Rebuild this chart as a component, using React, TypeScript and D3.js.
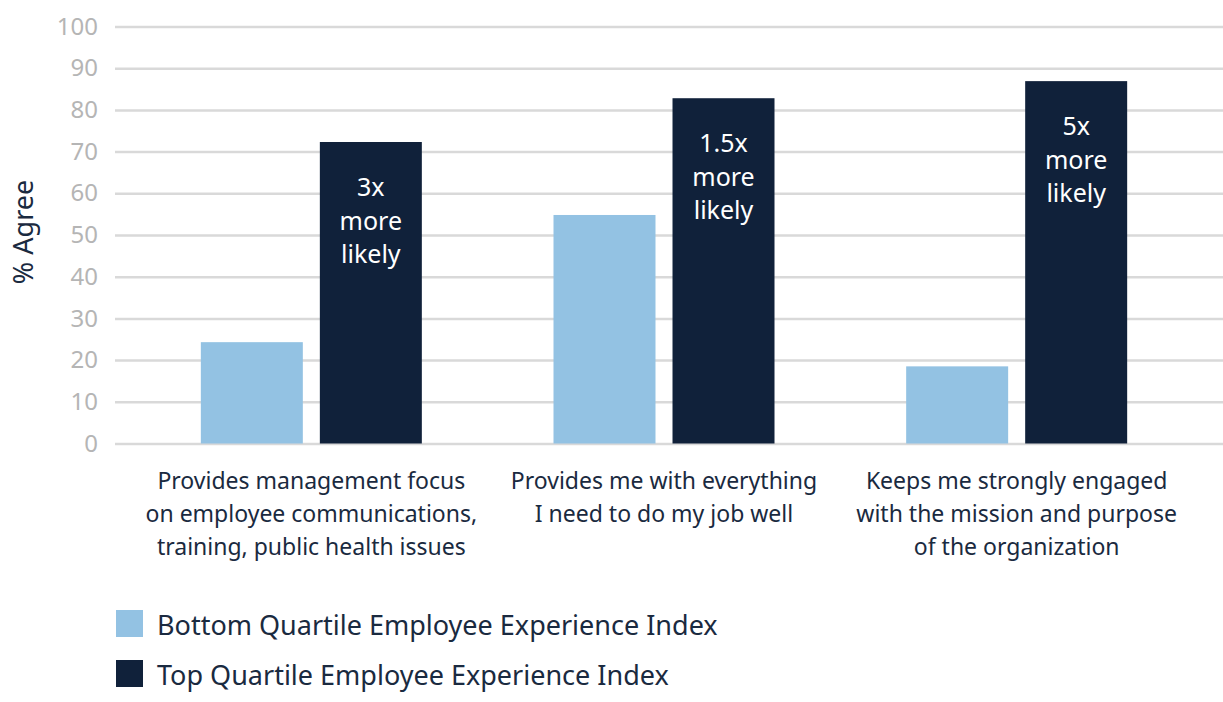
import { useEffect, useRef } from "react"
import * as d3 from "d3"

const categories = [
  ["Provides management focus", "on employee communications,", "training, public health issues"],
  ["Provides me with everything", "I need to do my job well"],
  ["Keeps me strongly engaged", "with the mission and purpose", "of the organization"],
]
const bottomQuartile = [24.3, 54.8, 18.5]
const topQuartile = [72.3, 82.8, 86.9]
const multipliers = ["3x", "1.5x", "5x"]
const yTicks = [0, 10, 20, 30, 40, 50, 60, 70, 80, 90, 100]
const seriesNames = ["Bottom Quartile Employee Experience Index", "Top Quartile Employee Experience Index"]

const C = { light: "#93c2e3", dark: "#10213a", grid: "#d9d9d9", tick: "#b5b5b5", text: "#1a2a40" }
const FONT = "'Noto Sans', sans-serif"

export default function App() {
  const ref = useRef<SVGSVGElement>(null)
  useEffect(() => {
    document.body.style.margin = "0"
    if (!ref.current) return
    const svg = d3.select(ref.current)
    svg.selectAll("*").remove()

    const y = d3.scaleLinear().domain([0, 100]).range([443.5, 26.5])
    const x0 = d3.scaleBand<number>().domain(d3.range(categories.length)).range([135, 1193])
    const x1 = d3.scaleBand<number>().domain([0, 1]).range([0, 221]).paddingInner(0.143)
    const off = (x0.bandwidth() - 221) / 2

    // grid + ticks
    const ax = svg.append("g").attr("transform", "translate(115,0)")
      .call(d3.axisLeft(y).tickValues(yTicks).tickSize(-1108).tickPadding(17))
    ax.select(".domain").remove()
    ax.selectAll(".tick line").style("stroke", C.grid).style("stroke-width", 2.5)
    ax.selectAll(".tick text").style("fill", C.tick).style("font-size", "24px").style("font-family", FONT)

    svg.append("text").attr("transform", `translate(22,232) rotate(-90)`).attr("text-anchor", "middle")
      .attr("dominant-baseline", "central").style("font-size", "27px").style("font-family", FONT).style("fill", C.text).text("% Agree")

    const g = svg.selectAll(".grp").data(categories).join("g").attr("class", "grp")
      .attr("transform", (_, i) => `translate(${x0(i)! + off},0)`)

    g.append("rect").attr("x", x1(0)!).attr("width", x1.bandwidth())
      .attr("y", (_, i) => y(bottomQuartile[i])).attr("height", (_, i) => y(0) - y(bottomQuartile[i])).attr("fill", C.light)
    g.append("rect").attr("x", x1(1)!).attr("width", x1.bandwidth())
      .attr("y", (_, i) => y(topQuartile[i])).attr("height", (_, i) => y(0) - y(topQuartile[i])).attr("fill", C.dark)

    g.each(function (lines, i) {
      const el = d3.select(this)
      const cx = x1(1)! + x1.bandwidth() / 2
      ;[multipliers[i], "more", "likely"].forEach((t, k) => {
        el.append("text").attr("x", cx).attr("y", y(topQuartile[i]) + 44 + k * 33.5).attr("text-anchor", "middle")
          .attr("dominant-baseline", "central").style("font-size", "25px").style("font-family", FONT).style("fill", "#fff").text(t)
      })
      lines.forEach((t, k) => {
        el.append("text").attr("x", 110.5).attr("y", 480 + k * 33).attr("text-anchor", "middle")
          .attr("dominant-baseline", "central").style("font-size", "23px").style("font-family", FONT).style("fill", C.text).text(t)
      })
    })

    const lg = svg.selectAll(".lg").data(seriesNames).join("g").attr("class", "lg")
      .attr("transform", (_, i) => `translate(116,${610 + i * 50})`)
    lg.append("rect").attr("width", 27).attr("height", 27).attr("fill", (_, i) => i ? C.dark : C.light)
    lg.append("text").attr("x", 41).attr("y", 14.5).attr("dominant-baseline", "central")
      .style("font-size", "27px").style("font-family", FONT).style("fill", C.text).text(d => d)
  }, [])
  return <svg ref={ref} width={1223} height={702} style={{ display: "block", background: "#fff" }} />
}
